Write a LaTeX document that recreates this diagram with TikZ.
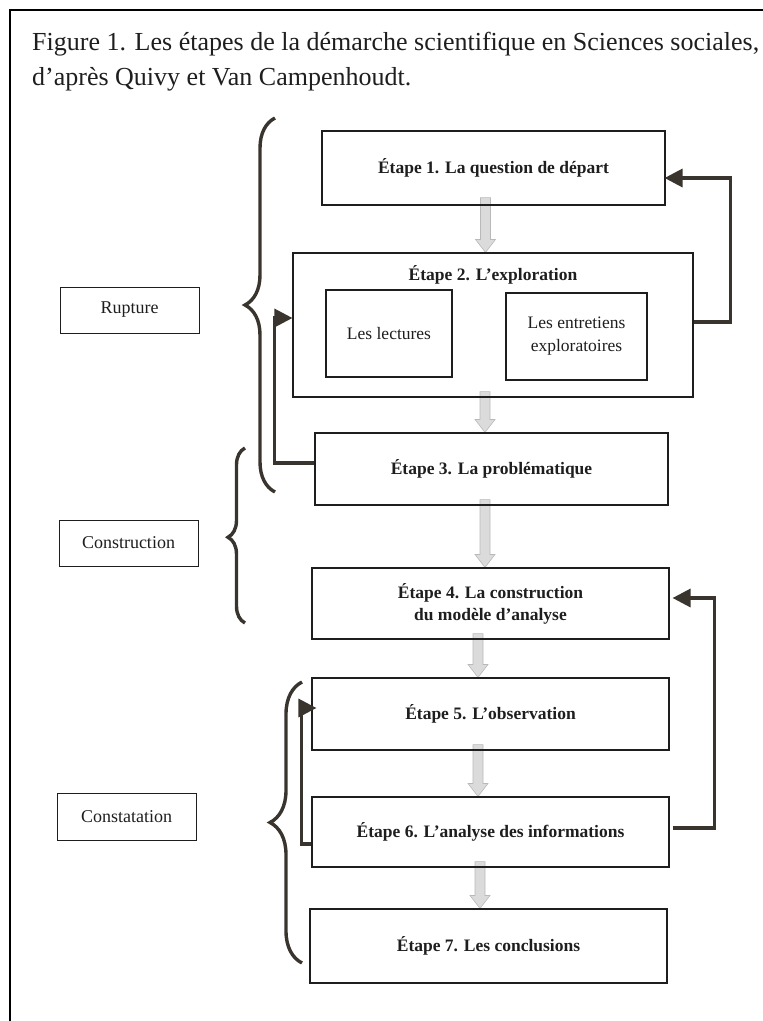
\documentclass[tikz,border=0pt]{standalone}
\usepackage{fontspec}
\setmainfont{Liberation Serif}
\usetikzlibrary{arrows.meta,decorations.pathreplacing,calc}
\pgfdeclarelayer{bg}
\pgfsetlayers{bg,main}
\definecolor{fbc}{RGB}{58,52,46}
\definecolor{inkc}{RGB}{30,30,30}
\begin{document}
\begin{tikzpicture}[x=1pt,y=-1pt,
  box/.style={draw=inkc, line width=1.1pt, inner sep=0pt, align=center, text=inkc,
    font=\fontsize{17.5}{22}\selectfont\bfseries},
  ibox/.style={draw=inkc, line width=1.1pt, inner sep=0pt, align=center, text=inkc,
    font=\fontsize{17.5}{23}\selectfont},
  lbox/.style={draw=inkc, line width=1pt, inner sep=0pt, align=center, text=inkc,
    font=\fontsize{18}{22}\selectfont},
  boldtxt/.style={inner sep=0pt, text=inkc, font=\fontsize{17.5}{22}\selectfont\bfseries},
  titletxt/.style={inner sep=0pt, anchor=base west, text=inkc, font=\fontsize{26}{35}\selectfont},
  brc/.style={draw=fbc, line width=3.4pt, decorate},
  fb/.style={draw=fbc, line width=3.2pt, -{Triangle[length=18pt 0 0, width=18pt 0 0]}},
  garrowstyle/.style={fill=gray!28, draw=gray!55, line width=0.6pt}
]
\useasboundingbox (0,0) rectangle (763,1021);
% frame (top and left edges)
\draw[line width=1.3pt, black] (763,10) -- (10,10) -- (10,1021);

% title
\node[titletxt] (t1) at (32,50) {Figure 1. Les étapes de la démarche scientifique en Sciences sociales,};
\node[titletxt] (t2) at (32,85) {d’après Quivy et Van Campenhoudt.};

% step boxes
\node[box, minimum width=343pt, minimum height=74pt] (s1) at (493.5,168) {Étape 1. La question de départ};
\node[box, minimum width=400pt, minimum height=144pt] (s2) at (493,325) {};
\node[boldtxt] (s2t) at (493,275) {Étape 2. L’exploration};
\node[ibox, minimum width=126pt, minimum height=87pt] (lec) at (389,333.5) {Les lectures};
\node[ibox, minimum width=141pt, minimum height=87pt] (ent) at (576.5,336.5) {Les entretiens\\exploratoires};
\node[box, minimum width=353pt, minimum height=72pt] (s3) at (491.5,469) {Étape 3. La problématique};
\node[box, minimum width=357pt, minimum height=71pt] (s4) at (490.5,603.5) {Étape 4. La construction\\du modèle d’analyse};
\node[box, minimum width=357pt, minimum height=72pt] (s5) at (490.5,714) {Étape 5. L’observation};
\node[box, minimum width=357pt, minimum height=70pt] (s6) at (490.5,832) {Étape 6. L’analyse des informations};
\node[box, minimum width=357pt, minimum height=74pt] (s7) at (488.5,946) {Étape 7. Les conclusions};

% left labels
\node[lbox, minimum width=139pt, minimum height=46pt] (rup) at (129.5,310) {Rupture};
\node[lbox, minimum width=139pt, minimum height=46pt] (con) at (128.5,543) {Construction};
\node[lbox, minimum width=139pt, minimum height=47pt] (cst) at (126.5,816.5) {Constatation};

% braces
\draw[brc, decoration={brace, amplitude=30pt, aspect=0.5}] (275,492) -- (275,118);
\draw[brc, decoration={brace, amplitude=17pt, aspect=0.49}] (245,623) -- (245,448);
\draw[brc, decoration={brace, amplitude=32pt, aspect=0.5}] (302,963) -- (302,682);

% gray progression arrows
\newcommand\garrow[2]{%
  \filldraw[garrowstyle] ($#1+(-5,0)$) -- ($#2+(-5,-13)$) -- ($#2+(-10,-13)$) -- #2
    -- ($#2+(10,-13)$) -- ($#2+(5,-13)$) -- ($#1+(5,0)$) -- cycle;}
\coordinate (a1) at ($(s1.south)+(-8,-8)$);  \coordinate (b1) at (a1 |- s2.north);
\coordinate (a2) at ($(s2.south)+(-8,-6)$);  \coordinate (b2) at (a2 |- s3.north);
\coordinate (a3) at ($(s3.south)+(-6.5,-6)$); \coordinate (b3) at (a3 |- s4.north);
\coordinate (a4) at ($(s4.south)+(-12.5,-6)$); \coordinate (b4) at (a4 |- s5.north);
\coordinate (a5) at ($(s5.south)+(-12.5,-6)$); \coordinate (b5) at (a5 |- s6.north);
\coordinate (a6) at ($(s6.south)+(-10.5,-6)$); \coordinate (b6) at (a6 |- s7.north);
\begin{pgfonlayer}{bg}
\garrow{(a1)}{(b1)}
\garrow{(a2)}{(b2)}
\garrow{(a3)}{(b3)}
\garrow{(a4)}{(b4)}
\garrow{(a5)}{(b5)}
\garrow{(a6)}{(b6)}
\end{pgfonlayer}

% feedback arrows
\draw[fb] ($(s2.east)+(0,-3)$) -| ($(s1.east)+(65,10)$) -- ($(s1.east)+(-1,10)$);
\draw[fb] ($(s3.west)+(0,-6)$) -| ($(s2.west)+(-18,-7)$) -- ($(s2.west)+(0,-7)$);
\draw[fb] ($(s6.east)+(3,-4)$) -| ($(s4.east)+(45,-5.5)$) -- ($(s4.east)+(3,-5.5)$);
\draw[fb] ($(s6.west)+(0,12)$) -| ($(s5.west)+(-10,-6)$) -- ($(s5.west)+(5,-6)$);
\end{tikzpicture}
\end{document}
